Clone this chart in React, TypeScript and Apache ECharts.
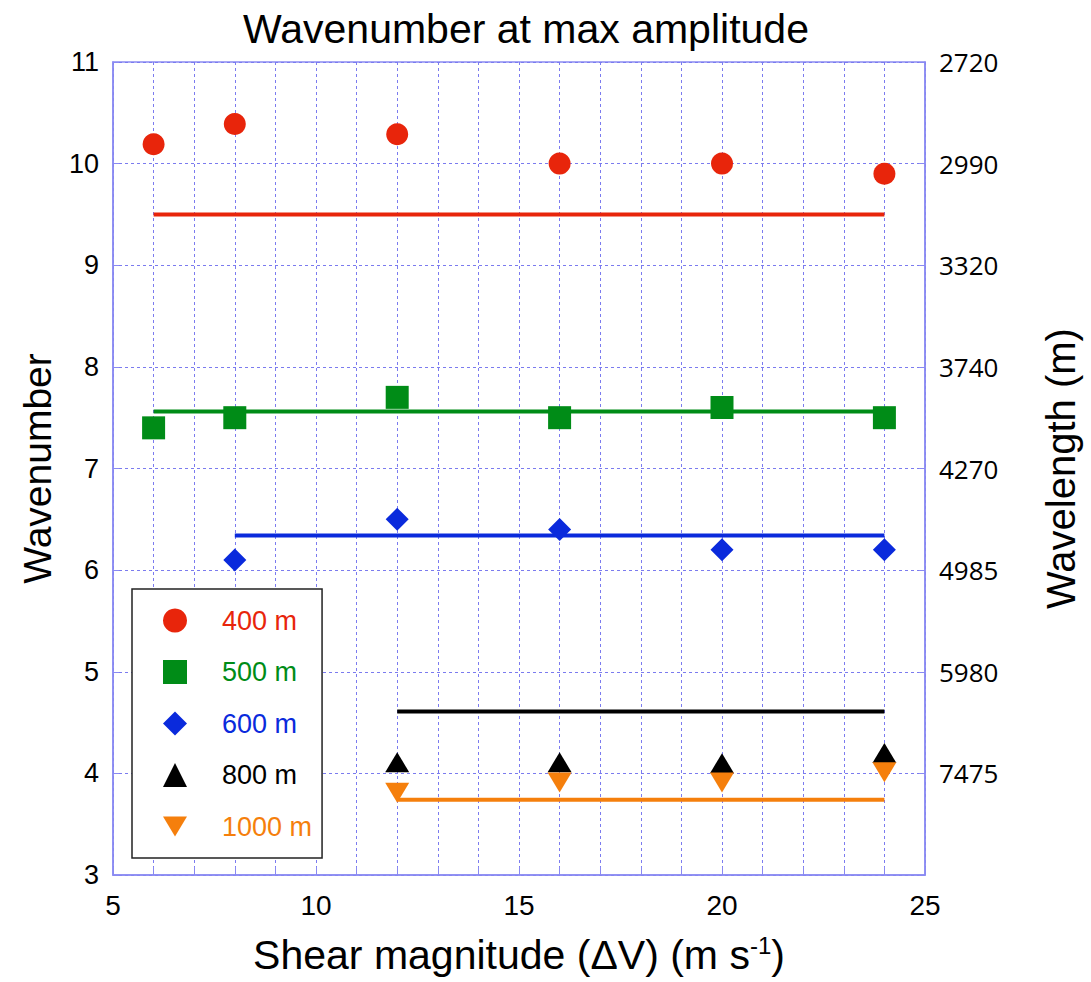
import React, { useEffect, useRef } from "react";
import * as echarts from "echarts";

// Scatter data (shear magnitude vs wavenumber at max amplitude)
const seriesNames = ["400 m", "500 m", "600 m", "800 m", "1000 m"];
const shear400 = [6, 8, 12, 16, 20, 24];
const wn400 = [10.19, 10.39, 10.29, 10.0, 10.0, 9.9];
const shear500 = [6, 8, 12, 16, 20, 24];
const wn500 = [7.4, 7.5, 7.7, 7.5, 7.6, 7.5];
const shear600 = [8, 12, 16, 20, 24];
const wn600 = [6.1, 6.5, 6.4, 6.2, 6.2];
const shear800 = [12, 16, 20, 24];
const wn800 = [4.11, 4.11, 4.1, 4.2];
const shear1000 = [12, 16, 20, 24];
const wn1000 = [3.81, 3.91, 3.91, 4.01];

// Mean (fit) lines
const fitStart = [6, 6, 8, 12, 12];
const fitEnd = [24, 24, 24, 24, 24];
const fitLevel = [9.5, 7.56, 6.34, 4.61, 3.74];

// Right axis tick labels (wavelength in m)
const wavelengthTicks = [4, 5, 6, 7, 8, 9, 10, 11];
const wavelengthLabels = ["7475", "5980", "4985", "4270", "3740", "3320", "2990", "2720"];

const colors = ["#e8250b", "#008c17", "#0a2adc", "#000000", "#f57f0c"];
const symbols = ["circle", "rect", "diamond", "triangle", "triangle"];
const symbolSizes: any[] = [22, 23, 23, [24, 20], [24, 20]];
const symbolRotates = [0, 0, 0, 0, 180];
const legendIcons = ["circle", "rect", "diamond", "triangle", "path://M0,0 L24,0 L12,20 Z"];

const FONT = "'Liberation Sans', Arial, sans-serif";
const AXIS_BLUE = "#8a8af2";
const GRID_BLUE = "#7b7bef";

export default function App() {
  const ref = useRef<HTMLDivElement>(null);
  useEffect(() => {
    if (!ref.current) return;
    const chart = echarts.init(ref.current, undefined, { renderer: "svg" });
    const xs = [shear400, shear500, shear600, shear800, shear1000];
    const ys = [wn400, wn500, wn600, wn800, wn1000];

    const scatterSeries = seriesNames.map((name, i) => ({
      name,
      type: "scatter",
      data: xs[i].map((x, j) => [x, ys[i][j]]),
      symbol: symbols[i],
      symbolSize: symbolSizes[i],
      symbolRotate: symbolRotates[i],
      itemStyle: { color: colors[i], opacity: 1 },
      z: 3,
    }));
    const lineSeries = seriesNames.map((name, i) => ({
      name: name + " mean",
      type: "line",
      data: [
        [fitStart[i], fitLevel[i]],
        [fitEnd[i], fitLevel[i]],
      ],
      showSymbol: false,
      symbol: "none",
      lineStyle: { color: colors[i], width: 4 },
      z: 2,
    }));

    const labelMap: Record<string, string> = {};
    wavelengthTicks.forEach((t, i) => (labelMap[String(t)] = wavelengthLabels[i]));

    chart.setOption({
      animation: false,
      backgroundColor: "#ffffff",
      title: {
        text: "Wavenumber at max amplitude",
        left: 521,
        textAlign: "center",
        top: 3,
        textStyle: { fontFamily: FONT, fontSize: 41, fontWeight: "normal", color: "#000" },
      },
      grid: {
        left: 113,
        top: 62,
        right: 166,
        bottom: 107,
        outerBoundsMode: "none",
        containLabel: false,
        show: true,
        borderColor: AXIS_BLUE,
        borderWidth: 1.5,
        backgroundColor: "transparent",
      },
      legend: {
        orient: "vertical",
        left: 132,
        top: 589,
        data: seriesNames.map((n, i) => ({
          name: n,
          icon: legendIcons[i],
          textStyle: { color: colors[i] },
        })),
        itemWidth: 24,
        itemHeight: 24,
        itemGap: 24.5,
        padding: [18, 10, 18, 31],
        borderColor: "#222",
        borderWidth: 1.5,
        backgroundColor: "#ffffff",
        textStyle: { fontFamily: FONT, fontSize: 27, padding: [0, 0, 0, 30] },
        selectedMode: false,
        z: 10,
      },
      xAxis: {
        type: "value",
        min: 5,
        max: 25,
        interval: 5,
        name: "{a|Shear magnitude (ΔV) (m s}{s|-1}{a|)}",
        nameLocation: "middle",
        nameGap: 58,
        nameTextStyle: {
          rich: {
            a: { fontFamily: FONT, fontSize: 41, color: "#000" },
            s: { fontFamily: FONT, fontSize: 24, color: "#000", padding: [0, 0, 20, 0] },
          },
        },
        axisLine: { show: true, lineStyle: { color: AXIS_BLUE, width: 1.5 } },
        axisTick: { show: true, inside: true, length: 8, lineStyle: { color: AXIS_BLUE } },
        minorTick: { show: true, splitNumber: 5, length: 8, lineStyle: { color: AXIS_BLUE } },
        splitLine: { show: true, lineStyle: { color: GRID_BLUE, type: [3, 3], width: 1 } },
        minorSplitLine: { show: true, lineStyle: { color: GRID_BLUE, type: [3, 3], width: 1 } },
        axisLabel: { fontFamily: FONT, fontSize: 28, color: "#000", margin: 16 },
      },
      yAxis: [
        {
          type: "value",
          min: 3,
          max: 11,
          interval: 1,
          name: "Wavenumber",
          nameLocation: "middle",
          nameGap: 56,
          nameTextStyle: { fontFamily: FONT, fontSize: 39, color: "#000" },
          axisLine: { show: true, lineStyle: { color: AXIS_BLUE, width: 1.5 } },
          axisTick: { show: true, inside: true, length: 6, lineStyle: { color: AXIS_BLUE } },
          splitLine: { show: true, lineStyle: { color: GRID_BLUE, type: [3, 3], width: 1 } },
          axisLabel: { fontFamily: FONT, fontSize: 27, color: "#000", margin: 14 },
        },
        {
          type: "value",
          position: "right",
          min: 3,
          max: 11,
          interval: 1,
          name: "Wavelength (m)",
          nameLocation: "middle",
          nameGap: 116,
          nameRotate: 90,
          nameTextStyle: { fontFamily: FONT, fontSize: 40, color: "#000" },
          axisLine: { show: true, lineStyle: { color: AXIS_BLUE, width: 1.5 } },
          axisTick: { show: true, inside: true, length: 6, lineStyle: { color: AXIS_BLUE } },
          splitLine: { show: false },
          axisLabel: {
            fontFamily: "'Open Sans', 'DejaVu Sans', sans-serif",
            fontSize: 26,
            color: "#000",
            margin: 14,
            formatter: (v: number) => labelMap[String(v)] || "",
          },
        },
      ],
      series: [...lineSeries, ...scatterSeries],
    });
    return () => chart.dispose();
  }, []);
  return (
    <div
      ref={ref}
      style={{ position: "absolute", left: 0, top: 0, width: 1091, height: 982 }}
    />
  );
}
